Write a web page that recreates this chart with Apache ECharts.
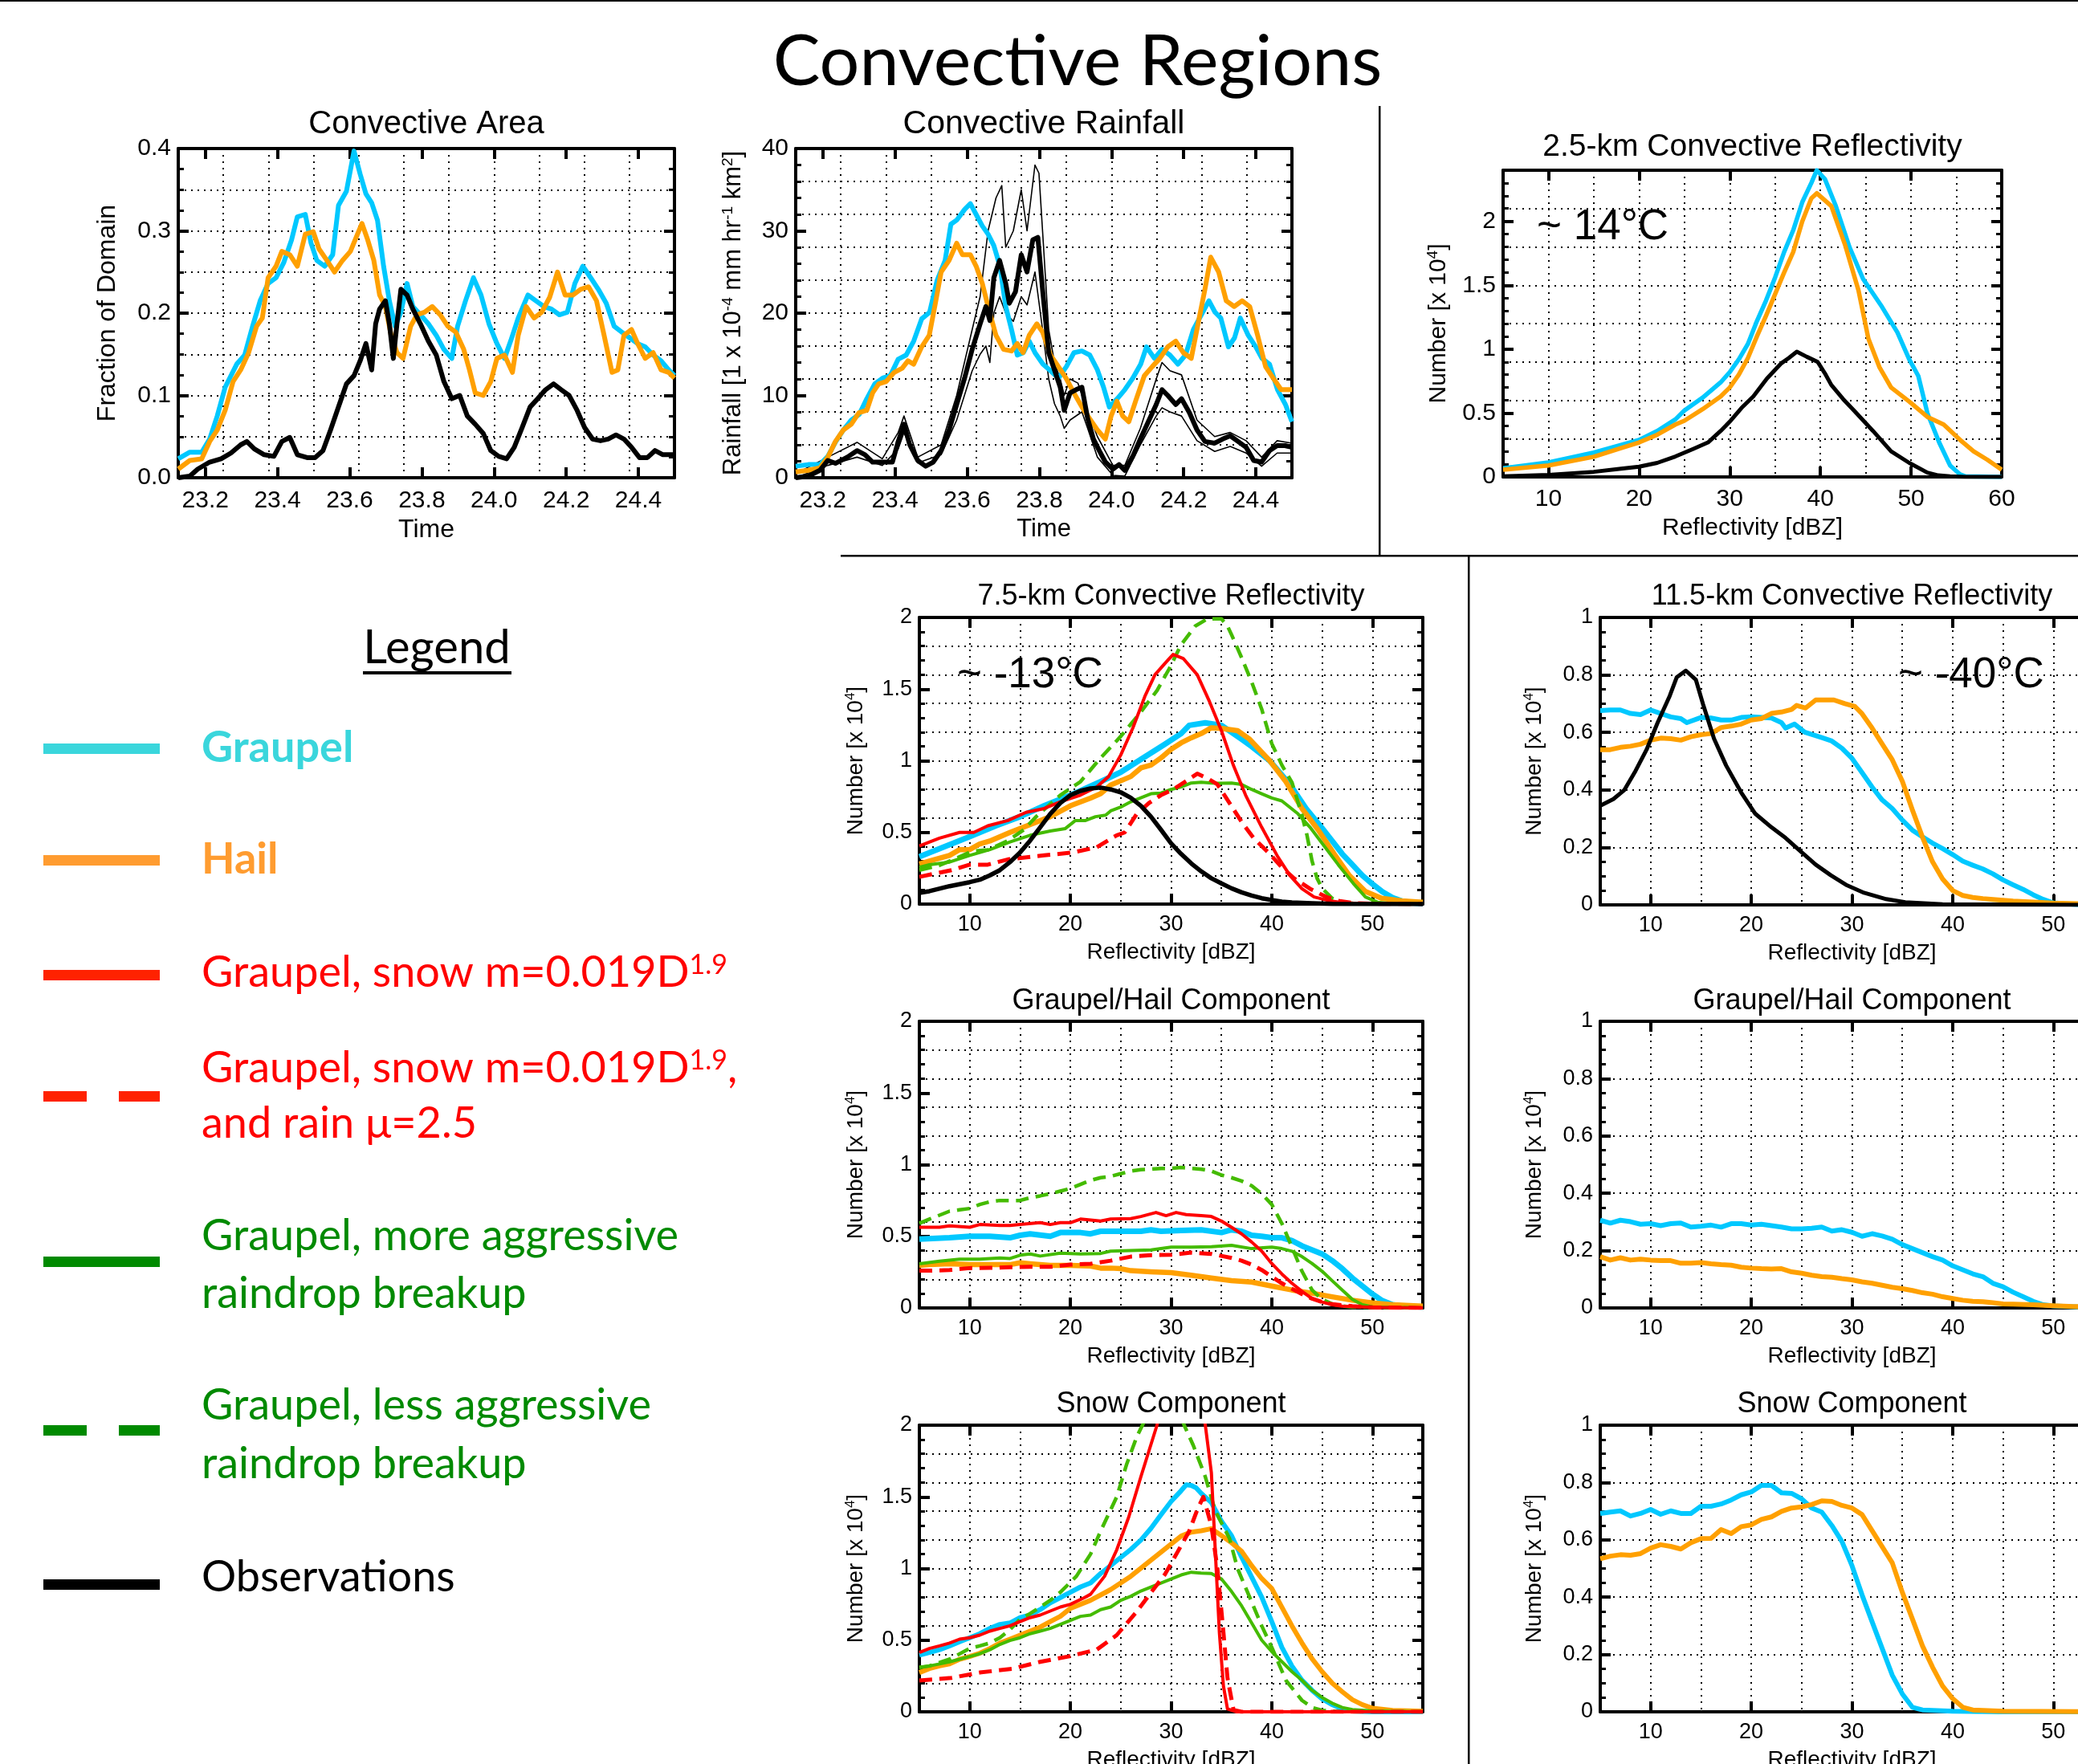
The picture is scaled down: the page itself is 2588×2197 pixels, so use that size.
<!DOCTYPE html>
<html><head><meta charset="utf-8">
<script src="https://cdn.jsdelivr.net/npm/echarts@6/dist/echarts.min.js"></script>
<style>html,body{margin:0;padding:0;background:#fff}#c{width:2588px;height:2197px}</style>
</head><body><div id="c"></div>
<script>
// ---------------- DATA ----------------
// Convective Area (fraction of domain) vs time (day)
const areaGraupel = [[23.125,0.023],[23.157,0.031],[23.190,0.031],[23.212,0.047],[23.233,0.075],[23.255,0.110],[23.287,0.138],[23.309,0.149],[23.331,0.184],[23.352,0.215],[23.374,0.236],[23.396,0.243],[23.417,0.261],[23.439,0.289],[23.455,0.317],[23.477,0.320],[23.493,0.285],[23.509,0.264],[23.531,0.257],[23.553,0.271],[23.569,0.331],[23.591,0.348],[23.612,0.397],[23.629,0.369],[23.645,0.345],[23.661,0.334],[23.677,0.313],[23.694,0.257],[23.710,0.215],[23.726,0.184],[23.742,0.201],[23.759,0.236],[23.775,0.208],[23.796,0.198],[23.818,0.187],[23.840,0.173],[23.861,0.156],[23.883,0.145],[23.899,0.184],[23.921,0.215],[23.943,0.243],[23.964,0.222],[23.986,0.187],[24.008,0.163],[24.029,0.145],[24.046,0.166],[24.067,0.194],[24.094,0.222],[24.116,0.215],[24.138,0.208],[24.159,0.205],[24.181,0.198],[24.203,0.201],[24.224,0.236],[24.246,0.257],[24.268,0.243],[24.289,0.229],[24.311,0.212],[24.333,0.184],[24.354,0.177],[24.376,0.170],[24.398,0.163],[24.419,0.159],[24.441,0.149],[24.463,0.142],[24.484,0.131],[24.500,0.124]];
const areaHail = [[23.125,0.0105],[23.157,0.021],[23.190,0.023],[23.212,0.044],[23.233,0.058],[23.255,0.082],[23.277,0.117],[23.298,0.131],[23.320,0.152],[23.342,0.184],[23.358,0.194],[23.374,0.243],[23.396,0.257],[23.412,0.275],[23.434,0.271],[23.455,0.257],[23.477,0.296],[23.499,0.299],[23.515,0.278],[23.537,0.264],[23.558,0.250],[23.580,0.264],[23.602,0.275],[23.618,0.292],[23.634,0.309],[23.650,0.289],[23.667,0.264],[23.683,0.222],[23.699,0.208],[23.715,0.173],[23.731,0.152],[23.748,0.145],[23.769,0.184],[23.786,0.198],[23.807,0.201],[23.829,0.208],[23.851,0.198],[23.872,0.184],[23.894,0.177],[23.916,0.156],[23.932,0.131],[23.948,0.103],[23.970,0.100],[23.991,0.117],[24.008,0.145],[24.029,0.149],[24.051,0.128],[24.067,0.173],[24.089,0.208],[24.111,0.194],[24.132,0.201],[24.154,0.219],[24.176,0.250],[24.197,0.222],[24.219,0.222],[24.240,0.229],[24.262,0.232],[24.284,0.215],[24.305,0.173],[24.327,0.128],[24.343,0.131],[24.360,0.173],[24.381,0.180],[24.398,0.163],[24.419,0.145],[24.441,0.152],[24.463,0.131],[24.484,0.128],[24.500,0.121]];
const areaObs = [[23.125,0.000],[23.157,0.002],[23.179,0.0105],[23.212,0.019],[23.244,0.023],[23.271,0.030],[23.298,0.040],[23.315,0.044],[23.336,0.035],[23.363,0.028],[23.390,0.026],[23.412,0.044],[23.434,0.049],[23.455,0.028],[23.482,0.0245],[23.504,0.0245],[23.526,0.033],[23.547,0.058],[23.569,0.086],[23.591,0.114],[23.612,0.124],[23.629,0.142],[23.645,0.163],[23.661,0.131],[23.672,0.187],[23.683,0.205],[23.699,0.215],[23.710,0.187],[23.721,0.145],[23.731,0.187],[23.742,0.229],[23.759,0.222],[23.775,0.205],[23.796,0.187],[23.818,0.166],[23.840,0.149],[23.861,0.117],[23.883,0.096],[23.905,0.100],[23.926,0.075],[23.948,0.065],[23.970,0.054],[23.991,0.033],[24.013,0.026],[24.035,0.023],[24.056,0.037],[24.078,0.061],[24.100,0.086],[24.121,0.096],[24.143,0.107],[24.165,0.114],[24.186,0.107],[24.208,0.100],[24.230,0.082],[24.251,0.061],[24.273,0.047],[24.295,0.045],[24.316,0.047],[24.338,0.052],[24.360,0.047],[24.381,0.037],[24.403,0.0245],[24.425,0.0245],[24.446,0.033],[24.468,0.028],[24.500,0.028]];

// Convective Rainfall (1e-4 mm/hr km^2) vs time
const rainGraupel = [[23.125,1.4],[23.160,1.6],[23.192,1.6],[23.214,2.6],[23.236,4.4],[23.257,5.8],[23.279,7.0],[23.301,7.7],[23.322,9.6],[23.344,11.4],[23.366,12.1],[23.387,12.4],[23.409,14.4],[23.431,14.9],[23.452,16.6],[23.474,19.3],[23.496,20.1],[23.517,24.0],[23.539,26.4],[23.555,30.8],[23.571,31.3],[23.593,32.6],[23.609,33.3],[23.626,31.9],[23.642,30.6],[23.658,29.6],[23.674,28.2],[23.691,25.7],[23.707,20.8],[23.723,18.0],[23.739,14.9],[23.756,15.2],[23.772,16.6],[23.788,15.2],[23.810,13.8],[23.831,13.0],[23.853,12.1],[23.875,13.5],[23.896,15.2],[23.918,15.4],[23.940,14.9],[23.961,13.1],[23.978,11.0],[23.994,8.6],[24.016,9.6],[24.037,10.7],[24.059,12.1],[24.081,13.8],[24.097,15.9],[24.119,14.5],[24.140,15.6],[24.162,14.9],[24.184,13.8],[24.205,14.9],[24.227,18.0],[24.249,19.8],[24.270,21.5],[24.287,20.1],[24.303,19.4],[24.324,15.9],[24.341,17.0],[24.357,19.4],[24.379,17.3],[24.400,15.9],[24.417,14.5],[24.438,13.8],[24.460,10.7],[24.482,8.9],[24.500,6.8]];
const rainHail = [[23.125,0.7],[23.160,0.9],[23.192,1.2],[23.214,2.5],[23.235,4.4],[23.257,5.8],[23.279,6.5],[23.300,7.9],[23.322,8.2],[23.338,10.3],[23.355,11.4],[23.376,11.7],[23.398,12.8],[23.420,13.3],[23.436,14.2],[23.452,13.8],[23.474,15.9],[23.495,17.3],[23.512,21.2],[23.528,25.0],[23.550,26.4],[23.571,28.5],[23.587,27.1],[23.609,27.1],[23.625,25.7],[23.642,23.6],[23.658,20.8],[23.680,17.3],[23.701,15.6],[23.723,15.4],[23.739,16.3],[23.755,15.2],[23.772,17.3],[23.793,18.7],[23.809,17.7],[23.831,14.9],[23.853,13.5],[23.874,12.1],[23.896,10.3],[23.918,8.6],[23.939,7.2],[23.961,5.8],[23.983,4.7],[23.999,7.5],[24.015,9.3],[24.031,7.5],[24.048,6.8],[24.069,9.6],[24.091,12.4],[24.113,13.5],[24.134,14.5],[24.156,15.9],[24.178,16.6],[24.199,15.2],[24.221,14.5],[24.243,19.4],[24.259,22.9],[24.275,26.8],[24.297,25.0],[24.318,21.5],[24.340,20.8],[24.362,21.5],[24.383,20.8],[24.405,17.3],[24.427,13.5],[24.448,12.1],[24.470,10.7],[24.500,10.7]];
const rainObs = [[23.125,0],[23.160,0.2],[23.192,0.9],[23.214,2.1],[23.235,1.75],[23.268,2.5],[23.295,3.3],[23.317,2.8],[23.338,1.9],[23.365,1.9],[23.393,1.9],[23.409,4.4],[23.425,6.5],[23.441,4.0],[23.463,2.1],[23.485,1.4],[23.506,1.9],[23.528,3.3],[23.550,5.8],[23.571,8.9],[23.593,12.1],[23.614,15.6],[23.636,18.7],[23.652,20.8],[23.663,19.1],[23.674,24.3],[23.690,26.4],[23.707,23.6],[23.717,21.2],[23.734,22.6],[23.750,27.1],[23.766,25.0],[23.782,28.9],[23.796,29.2],[23.809,22.9],[23.826,15.2],[23.842,13.1],[23.858,11.0],[23.869,8.2],[23.885,10.3],[23.902,10.7],[23.918,11.0],[23.934,7.2],[23.950,4.7],[23.966,3.3],[23.983,1.9],[24.004,1.05],[24.021,1.6],[24.037,0.9],[24.059,2.6],[24.080,4.7],[24.102,6.8],[24.124,8.9],[24.140,10.7],[24.156,10.0],[24.178,8.9],[24.194,9.6],[24.216,7.9],[24.237,5.8],[24.259,4.4],[24.286,4.2],[24.308,4.7],[24.329,5.1],[24.351,4.4],[24.373,3.7],[24.394,2.1],[24.416,1.9],[24.438,3.3],[24.459,3.9],[24.481,3.9],[24.500,3.7]];
const rainObsHigh = [[23.125,0.5],[23.214,2.5],[23.295,4.3],[23.365,2.3],[23.409,5.5],[23.425,7.5],[23.463,2.5],[23.528,4],[23.571,10],[23.614,18],[23.636,22],[23.658,30],[23.680,34],[23.696,35.5],[23.707,28],[23.728,30],[23.750,35],[23.766,30],[23.788,38],[23.799,37],[23.809,30],[23.826,18],[23.842,14],[23.858,12],[23.869,10],[23.885,12],[23.907,11.5],[23.934,8],[23.961,5],[24.004,1.5],[24.037,1.5],[24.080,6],[24.124,12],[24.140,14],[24.162,13],[24.194,12.5],[24.237,7],[24.286,5],[24.329,5.5],[24.373,4.5],[24.416,2.5],[24.459,4.5],[24.500,4.2]];
const rainObsLow = [[23.125,0],[23.214,1.5],[23.295,2.5],[23.365,1.5],[23.409,3.5],[23.425,5.5],[23.463,1.8],[23.528,2.8],[23.571,7],[23.614,13],[23.636,15],[23.652,16],[23.663,14],[23.674,20],[23.690,22],[23.707,20],[23.728,19],[23.750,22],[23.766,21],[23.788,25],[23.809,18],[23.826,12],[23.842,9],[23.858,7.5],[23.869,6],[23.885,7],[23.918,8],[23.934,6],[23.961,2.5],[24.004,0.3],[24.037,0.2],[24.080,4],[24.124,7.5],[24.140,8.5],[24.162,8],[24.194,7.5],[24.237,4.5],[24.286,3.2],[24.329,3.8],[24.373,3],[24.416,1.4],[24.459,3],[24.500,3]];

// 2.5-km reflectivity histograms [dBZ, number x 1e4]
const r25Graupel = [[5,.068],[10,.113],[15,.19],[20,.29],[22,.36],[24,.45],[25,.52],[27,.62],[29,.74],[30,.82],[31,.92],[32,1.04],[33,1.22],[34,1.38],[35,1.56],[36,1.76],[37,1.93],[38,2.15],[39,2.30],[39.6,2.40],[40.5,2.33],[41.7,2.12],[43.2,1.80],[44.7,1.55],[46.8,1.33],[48.5,1.13],[49.8,0.92],[50.8,0.79],[51.8,0.50],[53.1,0.27],[54.3,0.09],[55.4,0.02],[56,0.004],[60,0]];
const r25Hail = [[5,.056],[10,.09],[15,.158],[18,.225],[20,.27],[22,.33],[24,.41],[25,.44],[27,.53],[29,.63],[30,.70],[31,.80],[32,.93],[33,1.10],[34,1.26],[35,1.43],[36,1.60],[37,1.76],[38,2.00],[39,2.18],[39.6,2.22],[41.2,2.12],[42.7,1.82],[44.2,1.46],[45.3,1.08],[46.5,0.86],[47.8,0.70],[49.8,0.59],[51.8,0.47],[53.6,0.41],[55.4,0.29],[56.9,0.20],[58.4,0.135],[60,0.056]];
const r25Obs = [[5,.005],[10,.015],[15,.04],[18,.065],[20,.08],[22,.11],[24,.16],[25,.19],[26,.22],[27.6,.27],[29,.36],[30.1,.44],[31.3,.54],[32.6,.63],[34.1,.77],[35.7,.89],[36.5,.93],[37.4,.98],[38.5,.94],[39.7,.90],[40.5,.81],[41.2,.72],[42.5,.61],[43.7,.52],[45.8,.36],[47.8,.20],[49.8,.11],[51.8,.034],[53,.012],[54.3,.005],[56,0],[60,0]];

// 7.5-km reflectivity
const r75Graupel = [[5,.33],[7,.387],[10,.47],[12.6,.546],[15,.61],[17.4,.686],[20,.76],[23,.854],[25,.92],[27,1.01],[29.4,1.116],[31,1.19],[31.8,1.247],[33.4,1.265],[35,1.247],[37,1.15],[38,1.10],[39.8,1.00],[41.8,.835],[43.4,.667],[45,.53],[46,.44],[47,.35],[48,.275],[49,.20],[50,.14],[51,.085],[52,.045],[53,.02],[54,.008],[55,.003]];
const r75Hail = [[5,.28],[6,.30],[8,.34],[9,.38],[10,.38],[11,.42],[12,.44],[14,.50],[16,.555],[18,.61],[20,.686],[22,.74],[23,.77],[24,.83],[26,.89],[27,.95],[28,.97],[29,1.02],[30,1.08],[31,1.125],[32,1.16],[33,1.19],[34,1.23],[35,1.225],[36.6,1.21],[37.8,1.15],[39.8,1.0],[41.4,.854],[43,.667],[44.6,.518],[46.2,.35],[47.7,.20],[49.3,.088],[50.9,.041],[52.9,.022],[55,.013]];
const r75Snow019 = [[5,.405],[7,.46],[9,.50],[10.4,.50],[11.8,.546],[13.8,.583],[15.6,.64],[17.4,.667],[19,.714],[21,.76],[22.6,.817],[23.8,.89],[25,1.04],[26.2,1.228],[27.4,1.45],[28.4,1.60],[29.4,1.68],[30.2,1.742],[31.2,1.714],[32.6,1.60],[33.8,1.415],[35,1.21],[36.2,.966],[37.4,.76],[39,.536],[40.6,.33],[41.8,.20],[43,.107],[44.2,.05],[45.8,.022],[47,.01],[49,.003],[55,0]];
const r75Snow019Rain = [[5,.19],[8.2,.237],[10,.275],[11.8,.275],[13.8,.312],[17.4,.34],[20.2,.36],[22.6,.396],[24.6,.48],[25.4,.50],[26.6,.63],[27.8,.705],[29,.76],[30.2,.80],[31.4,.854],[32.6,.91],[33.8,.87],[34.6,.835],[35.8,.705],[37,.574],[38.2,.46],[39.8,.35],[41,.256],[42.2,.18],[43.8,.107],[45.4,.05],[46.6,.022],[48,.008],[50,.002],[55,0]];
const r75MoreBreak = [[5,.256],[6,.275],[8,.293],[10,.34],[12,.38],[14,.434],[16,.48],[18,.51],[19.5,.527],[20.5,.583],[21.5,.583],[22.5,.61],[23.5,.62],[24,.65],[25,.677],[26,.714],[27,.742],[28,.77],[29,.775],[30,.80],[31,.817],[32,.845],[33,.85],[34,.845],[35,.843],[36,.845],[37,.835],[38,.80],[39,.77],[40,.74],[41,.72],[42.6,.63],[43.8,.536],[45,.424],[46.6,.275],[48.1,.144],[49.3,.05],[50.5,.013],[52,.003],[55,0]];
const r75LessBreak = [[5,.237],[7,.27],[9,.33],[10.2,.368],[11.8,.378],[13.8,.443],[15.4,.52],[16.6,.61],[19,.76],[21,.854],[23,1.02],[25,1.17],[27,1.34],[28.6,1.49],[29.8,1.64],[31,1.81],[32.4,1.94],[33.6,1.99],[35,1.99],[35.6,1.94],[36,1.88],[37,1.72],[38,1.55],[39,1.36],[40,1.12],[41,.97],[42,.85],[43,.62],[43.5,.48],[44,.30],[44.5,.18],[45,.11],[46,.04],[47,.015],[48,.005],[55,0]];
const r75Obs = [[5,.078],[6,.09],[8,.125],[10,.153],[11,.17],[12,.20],[13,.237],[14,.293],[15,.36],[16,.443],[17,.536],[18,.63],[19,.705],[20,.76],[21,.79],[22,.807],[23,.813],[24,.80],[25,.78],[26,.742],[27,.686],[28,.61],[29,.518],[30,.424],[31,.35],[32,.284],[33,.228],[34,.18],[35,.144],[36,.11],[37,.082],[38,.06],[39,.041],[40,.028],[41,.017],[42,.011],[44,.006],[46,.002],[55,0]];

// 11.5-km reflectivity
const r115Graupel = [[5,.676],[6,.678],[7,.678],[8,.666],[9,.662],[10,.678],[11,.666],[12,.654],[13,.648],[13.6,.634],[15,.652],[16,.65],[17,.643],[18,.643],[19,.652],[20,.654],[21,.652],[22,.65],[23,.634],[23.4,.615],[24.3,.629],[25.3,.601],[27,.582],[28,.57],[29,.545],[30,.51],[31,.46],[32,.41],[33,.365],[34,.335],[35,.295],[36,.26],[37,.237],[38,.215],[39,.196],[40,.175],[41,.152],[42,.138],[43,.125],[44,.108],[45,.087],[46,.07],[47,.054],[48,.035],[49,.019],[50,.007],[52,.002],[55,0]];
const r115Hail = [[5,.54],[6,.54],[7,.548],[8,.552],[9,.559],[10,.573],[11,.58],[12,.578],[13,.573],[14,.585],[15,.592],[16,.596],[17,.617],[18,.622],[19,.629],[20,.643],[21,.648],[22,.666],[23,.671],[24,.68],[24.5,.694],[25.4,.685],[26.4,.713],[28.2,.713],[29.3,.70],[30.3,.69],[31,.665],[32,.615],[33,.56],[34,.505],[35,.43],[36,.33],[37,.236],[38,.15],[39,.09],[40,.05],[41,.033],[42,.026],[43,.022],[44,.019],[45,.016],[46,.013],[48,.01],[50,.006],[55,.002]];
const r115Obs = [[5,.345],[6.3,.368],[7.4,.40],[8.5,.466],[9.6,.54],[10.7,.634],[11.9,.727],[12.6,.792],[13.5,.815],[14.5,.783],[15.2,.699],[16.3,.578],[17.5,.485],[19,.391],[20.4,.317],[22,.27],[23.4,.233],[24.9,.186],[26.4,.14],[27.9,.103],[29.4,.07],[31.2,.042],[33.4,.02],[35.3,.009],[39,.002],[55,0]];

// 7.5-km graupel/hail component
const gh75Graupel = [[5,.48],[8,.49],[10,.50],[12,.50],[14,.49],[15,.507],[16,.517],[18,.50],[19,.526],[21,.526],[22,.517],[23,.535],[25,.535],[27,.535],[28,.545],[29,.535],[31,.54],[33,.545],[35,.526],[36,.545],[37,.535],[38,.507],[39,.50],[40,.49],[41,.49],[42,.47],[43,.433],[44,.405],[45,.377],[46,.33],[47,.274],[48,.209],[49,.153],[50,.097],[51,.05],[52,.022],[53,.013],[55,.007]];
const gh75Hail = [[5,.297],[6,.302],[8,.308],[10,.302],[12,.302],[14,.302],[15,.315],[16,.308],[18,.297],[20,.297],[22,.293],[23,.278],[24,.278],[25,.274],[26,.26],[28,.252],[30,.246],[32,.228],[34,.209],[36,.19],[38,.181],[40,.153],[42,.125],[44,.103],[46,.078],[48,.054],[50,.035],[52,.022],[55,.013]];
const gh75Snow019 = [[5,.563],[7,.563],[8,.573],[10,.563],[11,.582],[13,.576],[14,.576],[15,.582],[17,.595],[18,.582],[19,.595],[20,.595],[21,.62],[23,.606],[24,.62],[26,.623],[27,.638],[28.5,.666],[29.5,.644],[30.5,.666],[31.5,.651],[33,.644],[34,.638],[35,.606],[36,.563],[37,.517],[38,.46],[39,.396],[40,.31],[41,.237],[42,.172],[43,.116],[44,.065],[45,.041],[46,.022],[47,.013],[50,.004],[55,0]];
const gh75Snow019Rain = [[5,.26],[6,.26],[8,.265],[10,.278],[12,.28],[14,.284],[16,.287],[18,.287],[20,.302],[22,.308],[24,.33],[26,.358],[28,.368],[30,.371],[32,.386],[34,.377],[36,.349],[37,.33],[38,.302],[39,.265],[40,.218],[41,.172],[42,.134],[43,.097],[44,.065],[45,.041],[46,.026],[48,.013],[50,.004],[55,0]];
const gh75MoreBreak = [[5,.308],[7,.326],[9,.34],[11,.34],[13,.349],[14,.345],[15,.368],[16,.377],[17,.362],[19,.382],[21,.377],[23,.38],[24,.396],[26,.40],[28,.405],[30,.424],[32,.424],[34,.427],[36,.437],[38,.414],[40,.424],[41,.414],[42,.396],[43,.358],[44,.31],[45,.256],[46,.19],[47,.125],[48,.06],[49,.022],[50,.007],[55,0]];
const gh75LessBreak = [[5,.59],[6,.62],[7,.647],[8,.675],[9,.685],[10,.694],[11,.722],[12,.741],[13,.75],[14,.75],[15,.75],[16,.769],[17,.782],[18,.797],[19,.815],[20,.834],[21,.862],[22,.89],[23,.909],[24,.918],[25,.937],[26,.955],[27,.965],[28,.968],[29,.974],[30,.974],[31,.98],[32,.974],[33,.968],[34,.955],[35,.927],[36,.909],[37,.886],[38,.853],[39,.797],[40,.722],[41,.59],[42,.424],[43,.256],[44,.125],[45,.06],[46,.028],[47,.013],[48,.006],[55,0]];

// 11.5-km graupel/hail component
const gh115Graupel = [[5,.306],[6,.296],[7,.306],[8,.301],[9,.292],[10,.294],[11,.287],[12,.294],[13,.296],[14,.282],[15,.285],[16,.289],[17,.282],[18,.294],[19,.294],[20,.289],[21,.292],[22,.287],[23,.282],[24,.276],[25,.276],[26,.278],[27,.282],[28,.268],[29,.273],[30,.264],[31,.25],[32,.259],[33,.251],[34,.24],[35,.221],[36,.207],[37,.193],[38,.179],[39,.167],[40,.147],[41,.133],[42,.119],[43,.109],[44,.086],[45,.074],[46,.055],[47,.039],[48,.023],[49,.011],[50,.007],[52,.004],[55,.001]];
const gh115Hail = [[5,.179],[6,.167],[7,.175],[8,.167],[9,.17],[10,.167],[11,.165],[12,.165],[13,.156],[14,.156],[15,.158],[16,.154],[17,.151],[18,.149],[19,.142],[20,.139],[21,.137],[22,.136],[23,.137],[24,.126],[25,.121],[26,.114],[27,.109],[28,.107],[29,.102],[30,.098],[31,.091],[32,.086],[33,.079],[34,.072],[35,.067],[36,.061],[37,.053],[38,.048],[39,.039],[40,.033],[41,.027],[42,.023],[43,.022],[44,.018],[45,.014],[46,.013],[48,.011],[50,.008],[52,.005],[55,.002]];

// 7.5-km snow component
const sn75Graupel = [[5,.396],[6,.414],[7,.433],[8,.46],[9,.489],[10,.517],[11,.545],[12,.582],[13,.61],[14,.62],[15,.657],[16,.675],[17,.713],[18,.76],[19,.797],[20,.834],[21,.871],[22,.899],[23,.965],[24,1.02],[25,1.077],[26,1.133],[27,1.198],[28,1.28],[29,1.375],[30,1.468],[31,1.543],[31.5,1.584],[32,1.58],[32.5,1.562],[33,1.524],[34,1.46],[35,1.33],[36,1.23],[37,1.08],[38,.94],[39,.80],[40,.63],[41,.45],[42,.32],[43,.22],[44,.15],[45,.09],[46,.05],[47,.02],[48,.006],[50,0],[55,0]];
const sn75Hail = [[5,.274],[6,.302],[7,.32],[8,.334],[9,.367],[10,.386],[11,.409],[12,.442],[13,.48],[14,.507],[15,.535],[16,.563],[17,.591],[18,.629],[19,.666],[20,.722],[21,.75],[22,.778],[23,.815],[24,.853],[25,.899],[26,.946],[27,1.002],[28,1.058],[29,1.114],[30,1.17],[31,1.226],[32,1.254],[33,1.263],[34,1.278],[35,1.23],[36,1.18],[37,1.12],[38,1.02],[39,.93],[40,.86],[41,.73],[42,.60],[43,.48],[44,.37],[45,.28],[46,.20],[47,.14],[48,.085],[49,.05],[50,.025],[52,.01],[55,.004]];
const sn75Snow019 = [[5,.414],[6,.442],[7,.46],[8,.48],[9,.507],[10,.517],[11,.535],[12,.563],[13,.582],[14,.60],[15,.629],[16,.657],[17,.675],[18,.703],[19,.731],[20,.75],[21.4,.797],[22,.82],[23.4,.946],[24.6,1.13],[25.8,1.36],[27,1.64],[28.6,2.0],[29.5,2.3],[31,2.6],[32.5,2.4],[33.4,2.0],[34,1.67],[34.4,1.11],[34.8,.55],[35.2,.18],[35.6,.02],[36.5,0],[55,0]];
const sn75Snow019Rain = [[5,.218],[8.2,.237],[11,.274],[14.2,.30],[17,.349],[19.8,.386],[22.6,.433],[24.6,.535],[26.6,.70],[28.2,.85],[29.4,.96],[30.6,1.11],[31.8,1.26],[32.6,1.41],[33.2,1.50],[34,1.30],[34.6,1.0],[35.2,.554],[35.6,.237],[36.2,.013],[37,0],[55,0]];
const sn75MoreBreak = [[5,.31],[6,.32],[7,.334],[8,.349],[9,.367],[10,.386],[11,.405],[12,.433],[13,.47],[14,.498],[15,.517],[16,.545],[17,.563],[18,.582],[19,.61],[20,.638],[21,.666],[22,.675],[23,.713],[24,.731],[25,.778],[26,.806],[27,.843],[28,.871],[29,.899],[30,.927],[31,.955],[32,.974],[33,.968],[34,.965],[35,.927],[36,.84],[37,.74],[38,.62],[39,.50],[40,.42],[41,.35],[42,.28],[43,.22],[44,.15],[45,.10],[46,.06],[47,.03],[48,.015],[50,.005],[55,0]];
const sn75LessBreak = [[5,.31],[6,.32],[8,.367],[10,.442],[11,.46],[12,.48],[13,.517],[14,.573],[15,.647],[16,.685],[17,.731],[18,.778],[19,.834],[20.6,.946],[22,1.1],[23,1.26],[24.6,1.5],[25.6,1.73],[26.6,1.92],[27.5,2.05],[29,2.3],[30,2.25],[31.3,2.0],[32.2,1.86],[33.4,1.64],[34.4,1.40],[35.8,1.21],[36.6,1.0],[37.8,.80],[39,.60],[40,.45],[41.4,.22],[43,.08],[44,.03],[45,.01],[47,0],[55,0]];

// 11.5-km snow component
const sn115Graupel = [[5,.692],[6,.697],[7,.701],[8,.683],[9,.692],[10,.706],[11,.689],[12,.701],[13,.692],[14,.692],[15,.717],[16,.717],[17,.725],[18,.739],[19,.757],[20,.767],[21,.79],[22,.79],[23,.764],[24,.762],[25,.743],[26,.711],[27,.697],[28,.65],[29,.594],[30,.51],[31,.408],[32,.314],[33,.221],[34,.128],[35,.0625],[36,.016],[37,.0065],[40,.002],[45,0],[55,0]];
const sn115Hail = [[5,.534],[6,.543],[7,.548],[8,.546],[9,.552],[10,.571],[11,.583],[12,.577],[13,.568],[14,.59],[15,.604],[16,.605],[17,.636],[18,.622],[19,.646],[20,.652],[21,.671],[22,.68],[23,.699],[24,.711],[25,.715],[26,.723],[27,.736],[28,.734],[29,.72],[30,.711],[31,.688],[32,.632],[33,.576],[34,.52],[35,.417],[36,.324],[37,.23],[38,.156],[39,.09],[40,.046],[41,.016],[42,.0065],[45,.002],[55,0]];

// axis tick labels
const timeTicks = [23.2, 23.4, 23.6, 23.8, 24.0, 24.2, 24.4];
const areaTicks = [0, 0.1, 0.2, 0.3, 0.4];
const rainTicks = [0, 10, 20, 30, 40];
const dbzTicks60 = [10, 20, 30, 40, 50, 60];
const dbzTicks = [10, 20, 30, 40, 50];
const num2Ticks = [0, 0.5, 1, 1.5, 2];
const num1Ticks = [0, 0.2, 0.4, 0.6, 0.8, 1];

// ---------------- STYLE ----------------
const FONT = "'Liberation Sans', Arial, Helvetica, sans-serif";
const LFONT = "Lato, 'Open Sans', sans-serif";
const C_G = '#00c8ff', C_H = '#ffa000', C_R = '#ff0000', C_GR = '#44bb00', C_K = '#000000';
const gridStyle = { color: '#000', width: 2, type: [2, 6] };

const option = { animation: false, backgroundColor: '#fff', grid: [], xAxis: [], yAxis: [], series: [], graphic: [] };

function addPanel(p) {
  const gi = option.grid.length;
  option.grid.push({ left: p.box[0], top: p.box[1], width: p.box[2], height: p.box[3], containLabel: false, outerBoundsMode: 'none', show: false });
  const xi = option.xAxis.length, yi = option.yAxis.length;
  const rich = { sup: { fontSize: Math.round(p.name * 0.62), fontFamily: FONT, color: '#000', verticalAlign: 'top', lineHeight: p.name * 1.1 } };
  option.xAxis.push({
    gridIndex: gi, type: 'value', position: 'bottom', min: p.x[0], max: p.x[1], interval: p.xGrid,
    axisLine: { show: true, onZero: false, lineStyle: { color: '#000', width: 4 } },
    axisTick: { show: false }, splitLine: { show: true, lineStyle: gridStyle },
    axisLabel: { customValues: p.xLabels, formatter: p.xFmt, color: '#000', fontSize: p.tick, fontFamily: FONT, margin: p.xMargin },
    name: p.xName, nameLocation: 'middle', nameGap: p.xNameGap,
    nameTextStyle: { color: '#000', fontSize: p.name, fontFamily: FONT }
  });
  const tickX = pos => ({
    gridIndex: gi, type: 'value', position: pos, min: p.x[0], max: p.x[1],
    axisLine: { show: pos === 'top', onZero: false, lineStyle: { color: '#000', width: 4 } },
    axisTick: { show: true, inside: true, customValues: p.xLabels, length: 13, lineStyle: { color: '#000', width: 4 } },
    axisLabel: { show: false }, splitLine: { show: false }
  });
  option.xAxis.push(tickX('bottom'), tickX('top'));
  option.yAxis.push({
    gridIndex: gi, type: 'value', position: 'left', min: p.y[0], max: p.y[1], interval: p.yGrid,
    axisLine: { show: true, onZero: false, lineStyle: { color: '#000', width: 4 } },
    axisTick: { show: false }, splitLine: { show: true, lineStyle: gridStyle },
    axisLabel: { customValues: p.yLabels, formatter: p.yFmt, color: '#000', fontSize: p.tick, fontFamily: FONT, margin: 9 },
    name: p.yName, nameLocation: 'middle', nameGap: p.yNameGap, nameRotate: 90,
    nameTextStyle: { color: '#000', fontSize: p.name, fontFamily: FONT, rich: rich }
  });
  const tickY = pos => ({
    gridIndex: gi, type: 'value', position: pos, min: p.y[0], max: p.y[1], interval: p.yTick,
    axisLine: { show: pos === 'right', onZero: false, lineStyle: { color: '#000', width: 4 } },
    axisTick: { show: true, inside: true, length: 13, lineStyle: { color: '#000', width: 4 } },
    minorTick: { show: true, splitNumber: p.yMinor, length: 7, lineStyle: { color: '#000', width: 3 } },
    axisLabel: { show: false }, splitLine: { show: false }, minorSplitLine: { show: false }
  });
  option.yAxis.push(tickY('left'), tickY('right'));
  p.series.forEach((s, k) => {
    option.series.push({
      type: 'line', xAxisIndex: xi, yAxisIndex: yi, data: s.data, showSymbol: false, symbol: 'none',
      clip: true, silent: true, z: 3 + k,
      lineStyle: { color: s.c, width: s.w, type: s.dash ? s.dash : 'solid', cap: 'butt', join: 'round' }
    });
  });
  option.graphic.push({ type: 'text', x: p.box[0] + p.box[2] / 2, y: p.titleY,
    style: { text: p.title, fill: '#000', font: p.titleSize + 'px ' + FONT, align: 'center', verticalAlign: 'middle' } });
}

const f1 = v => v.toFixed(1);
const DASH = [16, 9];

// Convective Area
addPanel({ box: [222, 185, 618, 410], x: [23.125, 24.5], xGrid: 0.125, xLabels: timeTicks, xFmt: f1, xMargin: 14,
  y: [0, 0.4], yGrid: 0.05, yLabels: areaTicks, yFmt: f1, yTick: 0.1, yMinor: 4,
  tick: 30, name: 32, xName: 'Time', xNameGap: 49, yName: 'Fraction of Domain', yNameGap: 72,
  title: 'Convective Area', titleY: 155, titleSize: 40,
  series: [{ data: areaGraupel, c: C_G, w: 6 }, { data: areaHail, c: C_H, w: 6 }, { data: areaObs, c: C_K, w: 6 }] });

// Convective Rainfall
addPanel({ box: [991, 185, 618, 410], x: [23.125, 24.5], xGrid: 0.125, xLabels: timeTicks, xFmt: f1, xMargin: 14,
  y: [0, 40], yGrid: 4, yLabels: rainTicks, yTick: 10, yMinor: 5,
  tick: 30, name: 31, xName: 'Time', xNameGap: 49,
  yName: 'Rainfall [1 x 10{sup|-4} mm hr{sup|-1} km{sup|2}]', yNameGap: 60,
  title: 'Convective Rainfall', titleY: 155, titleSize: 41,
  series: [{ data: rainObsHigh, c: C_K, w: 1.6 }, { data: rainObsLow, c: C_K, w: 1.6 },
           { data: rainGraupel, c: C_G, w: 6 }, { data: rainHail, c: C_H, w: 6 }, { data: rainObs, c: C_K, w: 6 }] });

// 2.5-km
addPanel({ box: [1872, 212, 621, 382], x: [5, 60], xGrid: 5, xLabels: dbzTicks60, xMargin: 13,
  y: [0, 2.4], yGrid: 0.3, yLabels: num2Ticks, yTick: 0.5, yMinor: 5,
  tick: 30, name: 30, xName: 'Reflectivity [dBZ]', xNameGap: 49, yName: 'Number [x 10{sup|4}]', yNameGap: 64,
  title: '2.5-km Convective Reflectivity', titleY: 183, titleSize: 39,
  series: [{ data: r25Graupel, c: C_G, w: 5.5 }, { data: r25Hail, c: C_H, w: 5.5 }, { data: r25Obs, c: C_K, w: 5 }] });

// 7.5-km
const histCommon2 = { x: [5, 55], xGrid: 5, xLabels: dbzTicks, xMargin: 12, y: [0, 2], yGrid: 0.2, yLabels: num2Ticks, yTick: 0.5, yMinor: 5,
  tick: 27, name: 28, xName: 'Reflectivity [dBZ]', xNameGap: 46, yName: 'Number [x 10{sup|4}]', yNameGap: 63, titleSize: 36 };
const histCommon1 = { x: [5, 55], xGrid: 5, xLabels: dbzTicks, xMargin: 12, y: [0, 1], yGrid: 0.2, yLabels: num1Ticks, yTick: 0.2, yMinor: 4,
  tick: 27, name: 28, xName: 'Reflectivity [dBZ]', xNameGap: 46, yName: 'Number [x 10{sup|4}]', yNameGap: 66, titleSize: 36 };

addPanel(Object.assign({}, histCommon2, { box: [1145, 769, 627, 357], title: '7.5-km Convective Reflectivity', titleY: 743,
  series: [{ data: r75Graupel, c: C_G, w: 7 }, { data: r75Hail, c: C_H, w: 6.5 }, { data: r75MoreBreak, c: C_GR, w: 4 },
           { data: r75LessBreak, c: C_GR, w: 4.5, dash: DASH }, { data: r75Snow019Rain, c: C_R, w: 5, dash: DASH },
           { data: r75Snow019, c: C_R, w: 4 }, { data: r75Obs, c: C_K, w: 5.5 }] }));

addPanel(Object.assign({}, histCommon1, { box: [1993, 769, 627, 358], title: '11.5-km Convective Reflectivity', titleY: 743,
  series: [{ data: r115Graupel, c: C_G, w: 6 }, { data: r115Hail, c: C_H, w: 6 }, { data: r115Obs, c: C_K, w: 5 }] }));

addPanel(Object.assign({}, histCommon2, { box: [1145, 1272, 627, 357], title: 'Graupel/Hail Component', titleY: 1247,
  series: [{ data: gh75Graupel, c: C_G, w: 7 }, { data: gh75Hail, c: C_H, w: 6.5 }, { data: gh75MoreBreak, c: C_GR, w: 4 },
           { data: gh75LessBreak, c: C_GR, w: 4.5, dash: DASH }, { data: gh75Snow019Rain, c: C_R, w: 5, dash: DASH },
           { data: gh75Snow019, c: C_R, w: 4 }] }));

addPanel(Object.assign({}, histCommon1, { box: [1993, 1272, 627, 357], title: 'Graupel/Hail Component', titleY: 1247,
  series: [{ data: gh115Graupel, c: C_G, w: 6 }, { data: gh115Hail, c: C_H, w: 6 }] }));

addPanel(Object.assign({}, histCommon2, { box: [1145, 1775, 627, 357], title: 'Snow Component', titleY: 1749,
  series: [{ data: sn75Graupel, c: C_G, w: 6 }, { data: sn75Hail, c: C_H, w: 6 }, { data: sn75MoreBreak, c: C_GR, w: 4 },
           { data: sn75LessBreak, c: C_GR, w: 4.5, dash: DASH }, { data: sn75Snow019Rain, c: C_R, w: 5, dash: DASH },
           { data: sn75Snow019, c: C_R, w: 4 }] }));

addPanel(Object.assign({}, histCommon1, { box: [1993, 1775, 627, 357], title: 'Snow Component', titleY: 1749,
  series: [{ data: sn115Graupel, c: C_G, w: 6 }, { data: sn115Hail, c: C_H, w: 6 }] }));

// ---------------- DECORATIONS ----------------
const G = option.graphic;
const rect = (x, y, w, h, fill) => ({ type: 'rect', shape: { x, y, width: w, height: h }, style: { fill }, silent: true });
G.push(rect(0, 0, 2588, 2, '#000'));
G.push(rect(1717, 132, 2.5, 560, '#000'));
G.push(rect(1047, 691, 1541, 2.5, '#000'));
G.push(rect(1828, 693, 2.5, 1504, '#000'));
G.push({ type: 'text', x: 1342, y: 78, style: { text: 'Convective Regions', fill: '#000', font: '88px ' + LFONT, align: 'center', verticalAlign: 'middle' } });

// temperature annotations
const ann = (x, y, t) => ({ type: 'text', x, y, style: { text: t, fill: '#000', font: '53px ' + FONT, align: 'left', verticalAlign: 'middle' } });
G.push(ann(1914, 283, '~ 14°C'), ann(1192, 841, '~ -13°C'), ann(2364, 841, '~ -40°C'));

// legend
G.push({ type: 'text', x: 544, y: 807, style: { text: 'Legend', fill: '#000', font: '58px ' + LFONT, align: 'center', verticalAlign: 'middle' } });
G.push(rect(452, 836, 185, 4, '#000'));
const legTxt = (y, t, col, bold) => ({ type: 'text', x: 251, y, style: { text: t, fill: col, font: (bold ? 'bold ' : '') + '54px ' + LFONT, align: 'left', verticalAlign: 'middle',
  rich: { s: { fontSize: 34, fontFamily: LFONT, fill: col, verticalAlign: 'top' } } } });
const LG = '#3ad6dc', LH = '#ff9c30', LR = '#ff2200', LRT = '#ff0000', LGR = '#008a00';
G.push(rect(54, 926, 145, 13, LG), legTxt(932, 'Graupel', LG, true));
G.push(rect(54, 1065, 145, 13, LH), legTxt(1071, 'Hail', LH, true));
G.push(rect(54, 1208, 145, 13, LR), legTxt(1212, 'Graupel, snow m=0.019D{s|1.9}', LRT, false));
G.push(rect(54, 1359, 54, 13, LR), rect(148, 1359, 51, 13, LR), legTxt(1331, 'Graupel, snow m=0.019D{s|1.9},', LRT, false), legTxt(1400, 'and rain μ=2.5', LRT, false));
G.push(rect(54, 1565, 145, 13, LGR), legTxt(1540, 'Graupel, more aggressive', LGR, false), legTxt(1612, 'raindrop breakup', LGR, false));
G.push(rect(54, 1775, 54, 13, LGR), rect(148, 1775, 51, 13, LGR), legTxt(1751, 'Graupel, less aggressive', LGR, false), legTxt(1824, 'raindrop breakup', LGR, false));
G.push(rect(54, 1967, 145, 13, '#000'), legTxt(1965, 'Observations', '#000', false));

const chart = echarts.init(document.getElementById('c'), null, { renderer: 'canvas' });
chart.setOption(option);
</script>
</body></html>
